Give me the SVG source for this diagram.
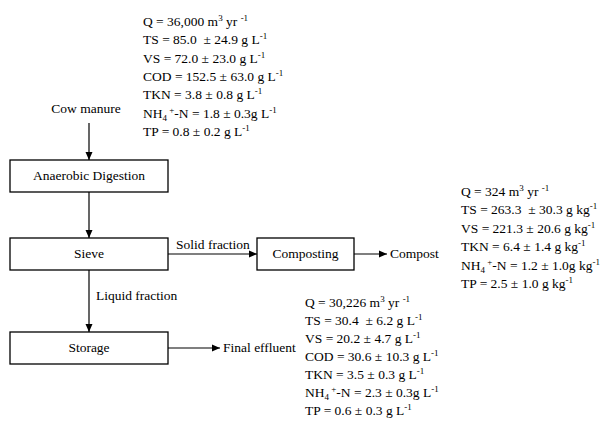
<svg xmlns="http://www.w3.org/2000/svg" width="601" height="427" viewBox="0 0 601 427">
<defs>
<marker id="ah" markerUnits="userSpaceOnUse" markerWidth="8" markerHeight="8" refX="8" refY="4" orient="auto">
<path d="M0,0.5 L8,4 L0,7.5 z" fill="#000"/>
</marker>
<style>
text{font-family:"Liberation Serif","Times New Roman",serif;font-size:13.5px;fill:#000;}
.c{text-anchor:middle;}
.box{fill:#fff;stroke:#000;stroke-width:1.3;}
.ln{stroke:#000;stroke-width:1.2;fill:none;marker-end:url(#ah);}
.s{font-size:9px;}
</style>
</defs>
<rect width="601" height="427" fill="#fff"/>
<g id="connectors">
<line class="ln" x1="89" y1="123" x2="89" y2="160"/>
<line class="ln" x1="89" y1="192" x2="89" y2="238"/>
<line class="ln" x1="89" y1="270" x2="89" y2="332"/>
<line class="ln" x1="168" y1="254" x2="257" y2="254"/>
<line class="ln" x1="354" y1="254" x2="387" y2="254"/>
<line class="ln" x1="168" y1="348" x2="220" y2="348"/>
<text x="176" y="249">Solid fraction</text>
<text x="96" y="300">Liquid fraction</text>
</g>
<g id="cow-manure"><text class="c" x="86" y="113">Cow manure</text></g>
<g id="anaerobic-digestion"><rect class="box" x="10" y="160" width="158" height="32"/><text class="c" x="89" y="180">Anaerobic Digestion</text></g>
<g id="sieve"><rect class="box" x="10" y="238" width="158" height="32"/><text class="c" x="89" y="258">Sieve</text></g>
<g id="storage"><rect class="box" x="10" y="332" width="158" height="32"/><text class="c" x="89" y="352">Storage</text></g>
<g id="composting"><rect class="box" x="257" y="238" width="97" height="32"/><text class="c" x="305.5" y="258">Composting</text></g>
<g id="compost"><text x="390" y="258">Compost</text></g>
<g id="final-effluent"><text x="223" y="352">Final effluent</text></g>
<g id="manure-data">
<text x="143" y="26">Q = 36,000 m<tspan class="s" dy="-5">3</tspan><tspan dy="5"> yr </tspan><tspan class="s" dy="-5">-1</tspan></text>
<text x="143" y="44.3">TS = 85.0 &#160;± 24.9 g L<tspan class="s" dy="-5">-1</tspan></text>
<text x="143" y="62.6">VS = 72.0 ± 23.0 g L<tspan class="s" dy="-5">-1</tspan></text>
<text x="143" y="80.9">COD = 152.5 ± 63.0 g L<tspan class="s" dy="-5">-1</tspan></text>
<text x="143" y="99.2">TKN = 3.8 ± 0.8 g L<tspan class="s" dy="-5">-1</tspan></text>
<text x="143" y="117.5">NH<tspan class="s" dy="3">4</tspan><tspan class="s" dy="-8"> +</tspan><tspan dy="5">-N = 1.8 ± 0.3g L</tspan><tspan class="s" dy="-5">-1</tspan></text>
<text x="143" y="135.8">TP = 0.8 ± 0.2 g L<tspan class="s" dy="-5">-1</tspan></text>
</g>
<g id="compost-data">
<text x="461" y="195.5">Q = 324 m<tspan class="s" dy="-5">3</tspan><tspan dy="5"> yr </tspan><tspan class="s" dy="-5">-1</tspan></text>
<text x="461" y="214">TS = 263.3 &#160;± 30.3 g kg<tspan class="s" dy="-5">-1</tspan></text>
<text x="461" y="232.5">VS = 221.3 ± 20.6 g kg<tspan class="s" dy="-5">-1</tspan></text>
<text x="461" y="251">TKN = 6.4 ± 1.4 g kg<tspan class="s" dy="-5">-1</tspan></text>
<text x="461" y="269.5">NH<tspan class="s" dy="3">4</tspan><tspan class="s" dy="-8"> +</tspan><tspan dy="5">-N = 1.2 ± 1.0g kg</tspan><tspan class="s" dy="-5">-1</tspan></text>
<text x="461" y="288">TP = 2.5 ± 1.0 g kg<tspan class="s" dy="-5">-1</tspan></text>
</g>
<g id="effluent-data">
<text x="305" y="307">Q = 30,226 m<tspan class="s" dy="-5">3</tspan><tspan dy="5"> yr </tspan><tspan class="s" dy="-5">-1</tspan></text>
<text x="305" y="325">TS = 30.4 &#160;± 6.2 g L<tspan class="s" dy="-5">-1</tspan></text>
<text x="305" y="343">VS = 20.2 ± 4.7 g L<tspan class="s" dy="-5">-1</tspan></text>
<text x="305" y="361">COD = 30.6 ± 10.3 g L<tspan class="s" dy="-5">-1</tspan></text>
<text x="305" y="379">TKN = 3.5 ± 0.3 g L<tspan class="s" dy="-5">-1</tspan></text>
<text x="305" y="397">NH<tspan class="s" dy="3">4</tspan><tspan class="s" dy="-8"> +</tspan><tspan dy="5">-N = 2.3 ± 0.3g L</tspan><tspan class="s" dy="-5">-1</tspan></text>
<text x="305" y="415">TP = 0.6 ± 0.3 g L<tspan class="s" dy="-5">-1</tspan></text>
</g>
</svg>
